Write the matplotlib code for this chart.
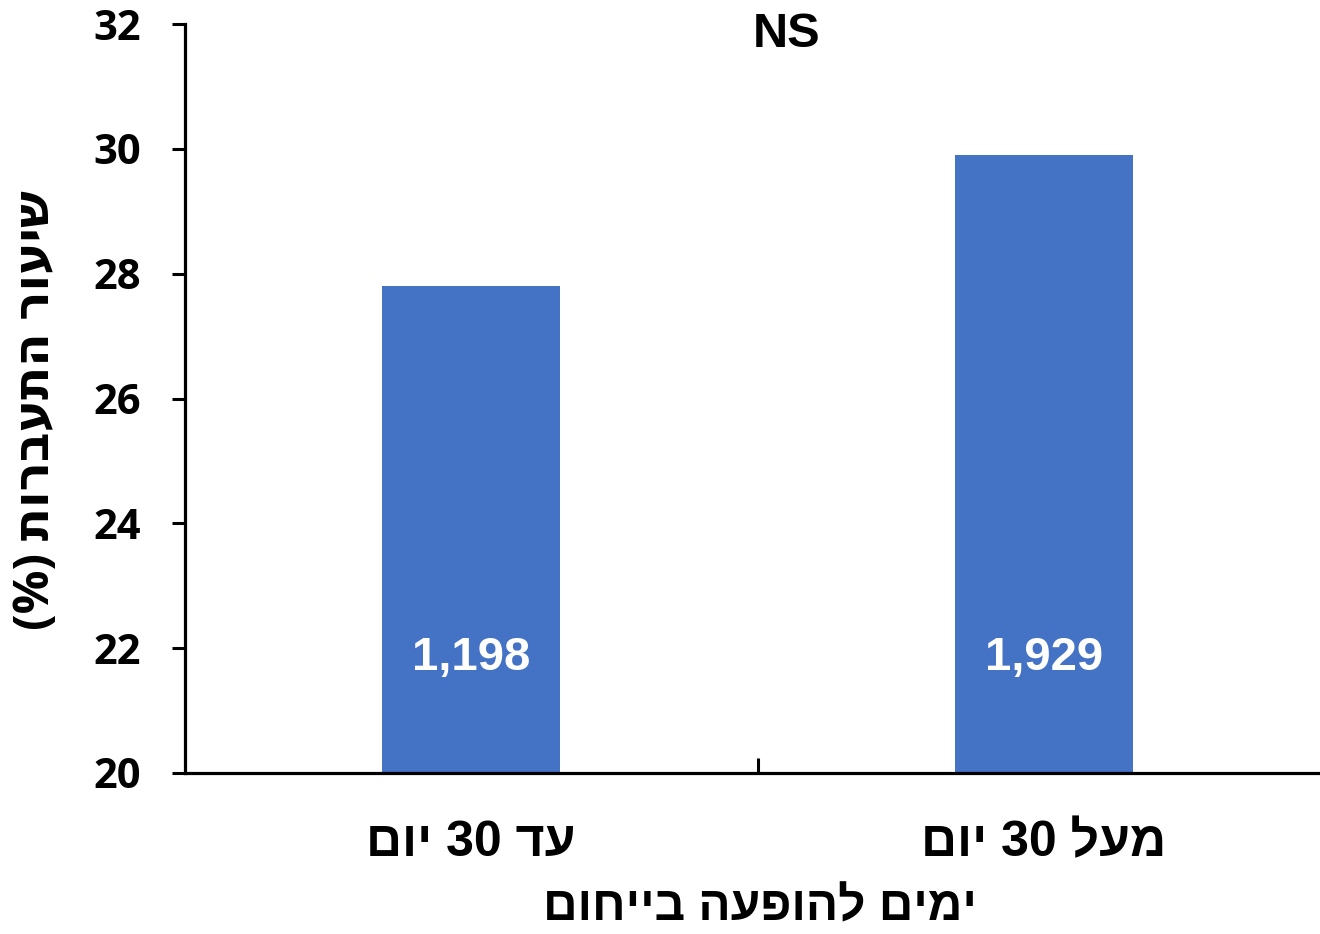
import matplotlib
matplotlib.use("Agg")
import matplotlib.pyplot as plt

# Data
categories = ["םוי 30 דע", "םוי 30 לעמ"]   # visual order of "עד 30 יום", "מעל 30 יום"
values = [27.8, 29.9]
bar_labels = ["1,198", "1,929"]
y_ticks = [20, 22, 24, 26, 28, 30, 32]
y_label = "(%) תורבעתה רועיש"          # "שיעור התעברות (%)"
x_label = "םוחייב העפוהל םימי"         # "ימים להופעה בייחום"
sig_text = "NS"

W, H = 1320, 934
fig = plt.figure(figsize=(W / 100, H / 100), dpi=100)
ax = fig.add_axes([185 / W, (H - 773) / H, (1330 - 185) / W, (773 - 24) / H])

arial = ["Liberation Sans", "DejaVu Sans"]
calibri = ["Open Sans", "DejaVu Sans"]

x = list(range(len(categories)))
ax.bar(x, values, width=0.311, color="#4472C4", zorder=2)
ax.set_xlim(-0.5, 1.5)
ax.set_ylim(20, 32)

for s in ["top", "right"]:
    ax.spines[s].set_visible(False)
for s in ["left", "bottom"]:
    ax.spines[s].set_linewidth(2.3)
    ax.spines[s].set_color("black")

ax.set_yticks(y_ticks)
ax.set_yticklabels([str(t) for t in y_ticks], family=calibri, fontweight="bold", fontsize=30)
ax.tick_params(axis="y", direction="out", length=9.5, width=2.2, pad=22)

ax.set_xticks(x)
ax.set_xticklabels(categories, family=arial, fontweight="bold", fontsize=36)
ax.tick_params(axis="x", which="major", length=0, pad=34)
ax.set_xticks([0.5], minor=True)
ax.tick_params(axis="x", which="minor", direction="in", length=11, width=2.2)

for xi, lab in zip(x, bar_labels):
    ax.text(xi, 21.85, lab, ha="center", va="center", color="white",
            family=arial, fontweight="bold", fontsize=34)

ax.text(0.55, 31.83, sig_text, ha="center", va="center", color="black",
        family=arial, fontweight="bold", fontsize=35)

fig.text(37 / W, 1 - 410 / H, y_label, rotation=90, ha="center", va="center",
         family=calibri, fontweight="bold", fontsize=35)
fig.text(760 / W, 1 - 908 / H, x_label, ha="center", va="center",
         family=arial, fontweight="bold", fontsize=34.5)

fig.savefig("out.png", dpi=100)
